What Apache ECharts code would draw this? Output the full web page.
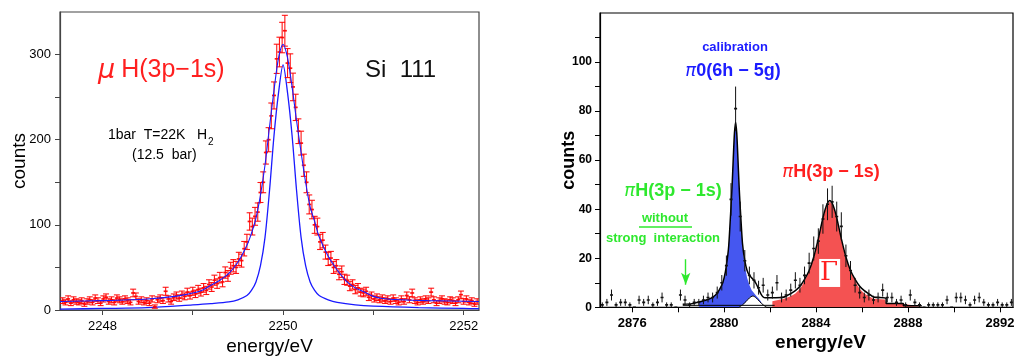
<!DOCTYPE html>
<html><head><meta charset="utf-8">
<script src="https://cdn.jsdelivr.net/npm/echarts@6/dist/echarts.min.js"></script>
<style>html,body{margin:0;padding:0;background:#fff}#c{width:1016px;height:356px}</style>
</head><body><div id="c"></div>
<script>
// ---------- LEFT PANEL DATA (muH 3p-1s, Si 111) ----------
const L_E0 = 2247.56, L_DE = 0.03;   // bin start / bin width (eV)
const leftCounts = [
11,9,13,8,12,10,9,11,7,10,
12,9,14,11,8,13,15,10,12,9,
14,12,10,13,11,9,20,16,10,12,
9,11,8,13,4,12,14,11,22,13,
10,15,17,14,18,16,21,17,22,19,
24,21,26,23,30,27,35,31,38,33,
44,40,49,52,50,60,58,72,80,104,
98,110,115,138,150,185,200,228,252,295,
303,320,328,290,284,262,238,210,196,170,
150,124,118,100,98,80,82,68,60,61,
50,52,42,45,36,35,28,30,24,26,
21,20,22,15,17,13,15,12,14,11,
13,10,14,11,9,13,10,17,12,20,
11,9,12,10,13,11,21,12,8,11,
13,10,9,12,11,8,12,18,10,13,
9,11,7,10];
const leftFit = [[2247.53,10],[2248.0,11],[2248.5,13],[2248.8,16],[2249.0,20],[2249.1,23],[2249.2,29],[2249.3,35],[2249.4,43],[2249.5,56],[2249.6,76],[2249.65,90],[2249.7,108],[2249.75,135],[2249.8,170],[2249.85,215],[2249.9,258],[2249.95,296],[2250.0,312],[2250.05,296],[2250.1,262],[2250.15,222],[2250.2,185],[2250.25,150],[2250.3,121],[2250.35,104],[2250.4,86],[2250.5,63],[2250.6,47],[2250.7,34],[2250.8,26],[2250.9,21],[2251.0,16],[2251.1,13.5],[2251.3,12],[2251.6,11],[2252.17,10]];
const leftResponse = [[2247.53,1.0],[2248.0,1.8],[2248.5,2.8],[2249.0,6],[2249.2,7.5],[2249.4,9.5],[2249.5,12],[2249.6,17],[2249.65,23],[2249.7,33],[2249.75,52],[2249.8,85],[2249.85,140],[2249.9,205],[2249.95,255],[2250.0,288],[2250.05,255],[2250.1,205],[2250.15,140],[2250.2,85],[2250.25,52],[2250.3,33],[2250.35,23],[2250.4,17],[2250.5,12],[2250.6,9],[2250.8,6],[2251.0,4.5],[2251.5,2.8],[2252.0,1.8],[2252.17,1.6]];
const leftXTicks = [2248,2249,2250,2251,2252];
const leftXLabels = [2248,2250,2252];
const leftYTicks = [0,50,100,150,200,250,300];
const leftYLabels = [0,100,200,300];

// ---------- RIGHT PANEL DATA (piH 3p-1s with calibration) ----------
const R_E0 = 2874.7, R_DE = 0.2;
const rightCounts = [
1,2,5,1,2,2,1,0,3,2,
3,1,2,4,1,1,0,5,3,1,
2,2,3,4,4,6,10,17,44,81,
37,19,13,11,8,9,5,6,10,4,
5,7,11,9,13,18,24,27,36,42,
43,37,33,21,15,9,6,4,5,3,
4,7,4,4,2,3,1,5,2,1,
0,1,1,1,1,3,0,4,4,3,
1,3,4,2,1,1,2,1,1,2];
const blueComp = [[2878.9,0],[2878.9,2.2],[2879.0,2.4],[2879.3,3.2],[2879.5,4.1],[2879.7,5.8],[2879.9,9.1],[2880.0,12],[2880.1,17],[2880.2,25],[2880.3,41],[2880.35,50],[2880.4,61],[2880.45,71],[2880.5,75],[2880.55,71],[2880.6,61],[2880.65,50],[2880.7,41],[2880.8,25],[2880.9,17],[2881.0,12],[2881.1,9.1],[2881.2,7],[2881.3,5.8],[2881.4,4.6],[2881.5,3.6],[2881.6,2.4],[2881.7,0]];
const satComp = [[2880.65,0],[2880.8,1],[2880.95,2.3],[2881.1,3.8],[2881.25,4.6],[2881.4,3.8],[2881.55,2.3],[2881.7,1],[2881.85,0]];
const redComp = [[2882.1,0],[2882.1,2.5],[2882.6,3.5],[2882.9,4.5],[2883.1,5.6],[2883.2,6.5],[2883.3,7.5],[2883.4,9],[2883.5,11],[2883.6,12.5],[2883.7,14.5],[2883.8,17],[2883.9,20],[2884.0,23.5],[2884.1,27.5],[2884.2,32],[2884.3,36],[2884.4,39.5],[2884.5,42],[2884.6,43],[2884.7,42],[2884.8,39.5],[2884.9,36],[2885.0,32],[2885.1,27.5],[2885.2,23.5],[2885.3,20],[2885.4,17],[2885.5,14.5],[2885.6,12.5],[2885.7,11],[2885.8,9],[2885.9,7.5],[2886.0,6.5],[2886.1,5.6],[2886.3,4.5],[2886.5,3.5],[2887.0,3.2],[2887.05,1.4],[2887.8,1.3],[2887.85,0.5],[2888.6,0.4],[2888.6,0]];
const envelope = [[2878.2,1.2],[2878.6,1.5],[2879.0,2.4],[2879.3,3.2],[2879.5,4.1],[2879.7,5.8],[2879.9,9.1],[2880.0,12],[2880.1,17],[2880.2,25],[2880.3,41],[2880.35,50],[2880.4,61],[2880.45,71],[2880.5,75.5],[2880.55,71],[2880.6,61],[2880.65,50],[2880.7,41],[2880.8,26],[2880.9,19],[2881.0,15],[2881.1,13],[2881.2,12],[2881.3,11],[2881.4,9.5],[2881.5,7.5],[2881.6,5.5],[2881.7,4.2],[2881.8,3.9],[2882.5,4],[2882.7,4.5],[2882.9,5.6],[2883.1,6.8],[2883.3,8.6],[2883.5,11.4],[2883.7,15],[2883.9,20.5],[2884.1,28],[2884.3,36.5],[2884.4,40],[2884.5,42.5],[2884.6,43.5],[2884.7,42.5],[2884.8,40],[2884.9,36.5],[2885.1,28],[2885.3,20.5],[2885.5,15],[2885.7,11.4],[2885.9,8.6],[2886.1,6.8],[2886.3,5.5],[2886.5,4.2],[2887.05,3.7],[2887.05,1.6],[2887.8,1.6],[2887.8,0.6],[2888.6,0.6]];
const background = [[2878.2,0.8],[2882.2,0.8]];
const rightXTicks = [2876,2878,2880,2882,2884,2886,2888,2890,2892];
const rightXLabels = [2876,2880,2884,2888,2892];
const rightYTicks = [0,10,20,30,40,50,60,70,80,90,100,110];
const rightYLabels = [0,20,40,60,80,100];
const arrowPos = {x: 2878.33, from: 19.6, to: 9.2};
const gammaPos = [2884.57, 14];

// ---------- build ----------
const leftPts = leftCounts.map((v,i)=>[+(L_E0+i*L_DE).toFixed(3), v, Math.sqrt(v)]);
const rightPts = rightCounts.map((v,i)=>[+(R_E0+i*R_DE).toFixed(3), v, Math.sqrt(v)]);

function errRenderer(color, cap, dash, lw){
  return function(params, api){
    const x=api.value(0), y=api.value(1), e=api.value(2);
    const c=api.coord([x,y]), t=api.coord([x,y+e]), b=api.coord([x,y-e]);
    const st={stroke:color, lineWidth:lw};
    const ch=[];
    if (e>0) ch.push({type:'line', shape:{x1:c[0],y1:t[1],x2:c[0],y2:b[1]}, style:st});
    if (cap && e>0){
      ch.push({type:'line', shape:{x1:c[0]-cap/2,y1:t[1],x2:c[0]+cap/2,y2:t[1]}, style:st});
      ch.push({type:'line', shape:{x1:c[0]-cap/2,y1:b[1],x2:c[0]+cap/2,y2:b[1]}, style:st});
    }
    ch.push({type:'line', shape:{x1:c[0]-dash/2,y1:c[1],x2:c[0]+dash/2,y2:c[1]}, style:{stroke:color, lineWidth:lw+0.6}});
    return {type:'group', children:ch};
  };
}

const LF = 'Liberation Sans, Arial, sans-serif';
const blk = '#000';

const chart = echarts.init(document.getElementById('c'), null, {renderer:'canvas'});
const option = {
  animation:false,
  backgroundColor:'#fff',
  grid:[
    {left:60, top:12, width:419, height:298, outerBoundsMode:'none', containLabel:false, show:true, borderColor:'#444', borderWidth:1.2, backgroundColor:'transparent'},
    {left:600, top:13, width:413, height:294.3, outerBoundsMode:'none', containLabel:false, show:true, borderColor:'#000', borderWidth:1.2, backgroundColor:'transparent'}
  ],
  xAxis:[
    {gridIndex:0, type:'value', min:2247.53, max:2252.17,
     axisLine:{lineStyle:{color:'#444', width:1.2}},
     axisTick:{customValues:leftXTicks, length:5, lineStyle:{color:'#444'}},
     axisLabel:{customValues:leftXLabels, formatter:v=>String(v), fontSize:13, color:blk, fontFamily:LF, margin:10},
     splitLine:{show:false},
     name:'energy/eV', nameLocation:'middle', nameGap:27, nameMoveOverlap:false, nameTextStyle:{fontSize:19, color:blk, fontFamily:LF}},
    {gridIndex:1, type:'value', min:2874.6, max:2892.57,
     axisLine:{lineStyle:{color:'#000', width:1.2}},
     axisTick:{customValues:rightXTicks, length:5, lineStyle:{color:'#000'}},
     axisLabel:{customValues:rightXLabels, formatter:v=>String(v), fontSize:13, fontWeight:'bold', color:blk, fontFamily:LF, margin:10},
     splitLine:{show:false},
     name:'energy/eV', nameLocation:'middle', nameGap:26, nameMoveOverlap:false, nameTextStyle:{fontSize:19, fontWeight:'bold', color:blk, fontFamily:LF, padding:[0,0,0,28]}}
  ],
  yAxis:[
    {gridIndex:0, type:'value', min:0, max:350,
     axisLine:{lineStyle:{color:'#444', width:1.2}},
     axisTick:{customValues:leftYTicks, length:5, lineStyle:{color:'#444'}},
     axisLabel:{customValues:leftYLabels, formatter:v=>String(v), fontSize:13, color:blk, fontFamily:LF, margin:9},
     splitLine:{show:false},
     name:'counts', nameLocation:'middle', nameGap:31, nameMoveOverlap:false, nameTextStyle:{fontSize:19, color:blk, fontFamily:LF}},
    {gridIndex:1, type:'value', min:0, max:120,
     axisLine:{lineStyle:{color:'#000', width:1.2}},
     axisTick:{customValues:rightYTicks, length:5, lineStyle:{color:'#000'}},
     axisLabel:{customValues:rightYLabels, formatter:v=>String(v), fontSize:12, fontWeight:'bold', color:blk, fontFamily:LF, margin:8},
     splitLine:{show:false},
     name:'counts', nameLocation:'middle', nameGap:22, nameMoveOverlap:false, nameTextStyle:{fontSize:18, fontWeight:'bold', color:blk, fontFamily:LF}}
  ],
  series:[
    // left
    {type:'line', xAxisIndex:0, yAxisIndex:0, data:leftResponse, smooth:0.3, showSymbol:false, lineStyle:{color:'#1a1aff', width:1.3}, z:3, silent:true},
    {type:'custom', xAxisIndex:0, yAxisIndex:0, data:leftPts, clip:true, renderItem:errRenderer('rgba(255,0,0,0.92)', 6, 4, 1.1), z:4, silent:true},
    {type:'line', xAxisIndex:0, yAxisIndex:0, data:leftFit, smooth:0.3, showSymbol:false, lineStyle:{color:'#1a1aff', width:1.1}, z:5, silent:true},
    // right
    {type:'line', xAxisIndex:1, yAxisIndex:1, data:redComp, showSymbol:false, lineStyle:{width:0}, areaStyle:{color:'#f45252', opacity:1}, z:2, silent:true},
    {type:'line', xAxisIndex:1, yAxisIndex:1, data:blueComp, showSymbol:false, lineStyle:{width:0}, areaStyle:{color:'#4557f0', opacity:1}, z:2, silent:true},
    {type:'line', xAxisIndex:1, yAxisIndex:1, data:satComp, smooth:0.3, showSymbol:false, lineStyle:{color:'#000', width:1}, areaStyle:{color:'#fff', opacity:1}, z:3, silent:true},
    {type:'line', xAxisIndex:1, yAxisIndex:1, data:background, showSymbol:false, lineStyle:{color:'#000', width:1}, z:3, silent:true,
     markLine:{silent:true, symbol:['none','arrow'], symbolSize:[7,12], lineStyle:{color:'#2ee82e', width:1.4, type:'solid'}, label:{show:false},
       data:[[{coord:[arrowPos.x, arrowPos.from]},{coord:[arrowPos.x, arrowPos.to]}]]}},
    {type:'line', xAxisIndex:1, yAxisIndex:1, data:envelope, smooth:0.2, showSymbol:false, lineStyle:{color:'#000', width:1.5}, z:4, silent:true},
    {type:'custom', xAxisIndex:1, yAxisIndex:1, data:rightPts, clip:true, renderItem:errRenderer('#111', 0, 3, 1), z:6, silent:true}
  ]
};
chart.setOption(option);

// ---------- annotations ----------
const g = chart.convertToPixel({xAxisIndex:1, yAxisIndex:1}, gammaPos);
const blue='#1c1cff', red='#ff1f1f', green='#2ee82e';
const piRich = (c,s)=>({p:{fontFamily:'DejaVu Sans', fontStyle:'italic', fontSize:s, fill:c}});
chart.setOption({graphic:[
  {type:'text', left:98, top:57, style:{text:'{m|μ}H(3p−1s)', font:'25px '+LF, fill:red,
     rich:{m:{fontFamily:'DejaVu Sans', fontStyle:'italic', fontSize:27, fill:red, padding:[0,6,0,0]}}}},
  {type:'text', left:365, top:58, style:{text:'Si  111', font:'24px '+LF, fill:'#111'}},
  {type:'text', left:108, top:128, style:{text:'1bar  T=22K   H', font:'14px '+LF, fill:'#000'}},
  {type:'text', left:208, top:137, style:{text:'2', font:'10px '+LF, fill:'#000'}},
  {type:'text', left:132, top:148, style:{text:'(12.5  bar)', font:'14px '+LF, fill:'#000'}},

  {type:'text', x:735, y:47, style:{text:'calibration', font:'bold 13px '+LF, fill:blue, align:'center', verticalAlign:'middle'}},
  {type:'text', x:733, y:71, style:{text:'{p|π}0(6h − 5g)', font:'bold 18px '+LF, fill:blue, align:'center', verticalAlign:'middle', rich:piRich(blue,18)}},
  {type:'text', x:831, y:172, style:{text:'{p|π}H(3p − 1s)', font:'bold 18px '+LF, fill:red, align:'center', verticalAlign:'middle', rich:piRich(red,18)}},
  {type:'text', x:673, y:191, style:{text:'{p|π}H(3p − 1s)', font:'bold 18px '+LF, fill:green, align:'center', verticalAlign:'middle', rich:piRich(green,18)}},
  {type:'text', x:665, y:218, style:{text:'without', font:'bold 13px '+LF, fill:green, align:'center', verticalAlign:'middle'}},
  {type:'line', shape:{x1:639, y1:227, x2:692, y2:227}, style:{stroke:green, lineWidth:1.5}},
  {type:'text', x:663, y:238, style:{text:'strong  interaction', font:'bold 13px '+LF, fill:green, align:'center', verticalAlign:'middle'}},
  {type:'rect', shape:{x:g[0]-10, y:g[1]-14, width:21, height:28}, style:{fill:'#fff'}, z:10},
  {type:'text', x:g[0], y:g[1], z:11, style:{text:'Γ', font:'26px DejaVu Serif, serif', fill:red, align:'center', verticalAlign:'middle'}}
]});
</script></body></html>
